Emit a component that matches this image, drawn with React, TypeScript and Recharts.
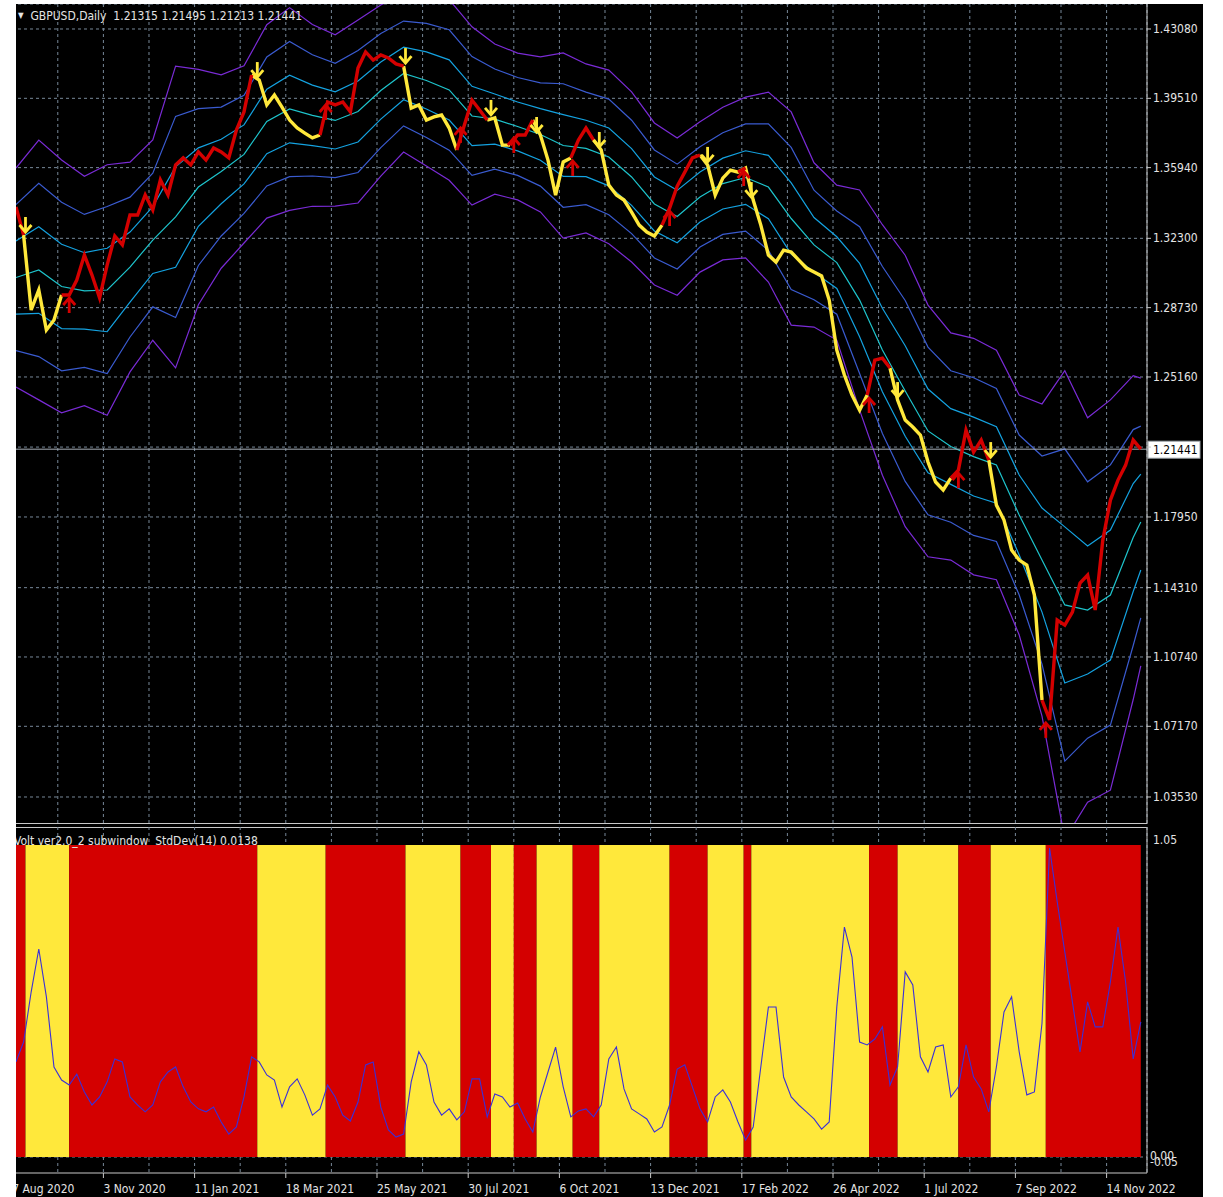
import { ComposedChart, Line, XAxis, YAxis, CartesianGrid, ReferenceLine, ReferenceArea, Scatter } from 'recharts'

const FONT = "'DejaVu Sans Condensed', 'Liberation Sans Narrow', 'DejaVu Sans', sans-serif"
const RED = '#d40000'
const YELLOW = '#ffe83b'
const GRID = '#778899'
const FRAME = '#c8c8c8'
const TEXT = '#e4e4e4'

// one close every 4 daily bars
const BAR_STEP = 4
const CLOSES = [
  1.3391, 1.3247, 1.2861, 1.2964, 1.2758, 1.2809, 1.2938, 1.2938, 1.3015, 1.3144,
  1.3041, 1.2923, 1.3093, 1.3242, 1.3196, 1.3350, 1.3350, 1.3453, 1.3376, 1.3531,
  1.3453, 1.3608, 1.3644, 1.3608, 1.3675, 1.3633, 1.3695, 1.3675, 1.3644, 1.3788,
  1.3881, 1.4071, 1.4045, 1.3917, 1.3968, 1.3906, 1.3839, 1.3798, 1.3772, 1.3747,
  1.3762, 1.3932, 1.3917, 1.3932, 1.3881, 1.4107, 1.4190, 1.4148, 1.4174, 1.4159,
  1.4128, 1.4117, 1.3901, 1.3917, 1.3839, 1.3855, 1.3865, 1.3798, 1.3685, 1.3814,
  1.3942, 1.3891, 1.3839, 1.3850, 1.3710, 1.3710, 1.3762, 1.3762, 1.3839, 1.3762,
  1.3633, 1.3453, 1.3623, 1.3644, 1.3736, 1.3798, 1.3736, 1.3685, 1.3504, 1.3453,
  1.3427, 1.3365, 1.3298, 1.3262, 1.3242, 1.3298, 1.3386, 1.3499, 1.3571, 1.3644,
  1.3659, 1.3608, 1.3453, 1.3540, 1.3581, 1.3571, 1.3592, 1.3427, 1.3298, 1.3144,
  1.3108, 1.3169, 1.3159, 1.3118, 1.3077, 1.3056, 1.3036, 1.2912, 1.2654, 1.2526,
  1.2423, 1.2345, 1.2423, 1.2603, 1.2613, 1.2562, 1.2397, 1.2294, 1.2258, 1.2217,
  1.2078, 1.1975, 1.1934, 1.1995, 1.2036, 1.2242, 1.2129, 1.2191, 1.2088, 1.1856,
  1.1779, 1.1625, 1.1573, 1.1547, 1.1393, 1.0852, 1.0750, 1.1264, 1.1238, 1.1305,
  1.1455, 1.1496, 1.1316, 1.1676, 1.1882, 1.1985, 1.2062, 1.2191, 1.2144,
]

const STD_DEV = [
  0.320, 0.387, 0.556, 0.700, 0.539, 0.303, 0.259, 0.242, 0.279, 0.219,
  0.175, 0.202, 0.253, 0.330, 0.320, 0.202, 0.175, 0.152, 0.175, 0.253,
  0.286, 0.303, 0.236, 0.185, 0.162, 0.152, 0.168, 0.118, 0.077, 0.101,
  0.202, 0.337, 0.320, 0.276, 0.259, 0.168, 0.236, 0.263, 0.209, 0.141,
  0.162, 0.242, 0.202, 0.141, 0.121, 0.185, 0.310, 0.320, 0.168, 0.091,
  0.067, 0.077, 0.253, 0.354, 0.310, 0.185, 0.141, 0.162, 0.125, 0.152,
  0.263, 0.263, 0.135, 0.212, 0.202, 0.168, 0.182, 0.128, 0.084, 0.202,
  0.286, 0.370, 0.236, 0.135, 0.155, 0.162, 0.135, 0.175, 0.330, 0.370,
  0.229, 0.162, 0.145, 0.128, 0.084, 0.101, 0.175, 0.296, 0.310, 0.236,
  0.162, 0.118, 0.202, 0.226, 0.185, 0.118, 0.057, 0.101, 0.303, 0.505,
  0.505, 0.269, 0.202, 0.175, 0.152, 0.128, 0.094, 0.118, 0.505, 0.774,
  0.673, 0.387, 0.377, 0.397, 0.438, 0.242, 0.303, 0.623, 0.579, 0.337,
  0.286, 0.370, 0.377, 0.202, 0.236, 0.377, 0.269, 0.229, 0.152, 0.303,
  0.488, 0.539, 0.354, 0.209, 0.219, 0.450, 1.040, 0.859, 0.690, 0.522,
  0.354, 0.522, 0.438, 0.438, 0.589, 0.774, 0.589, 0.330, 0.455,
]

// envelope: middle line and the distance between neighbouring lines
const BAND_BARS = [
  0, 12, 24, 36, 48, 60, 72, 84, 96, 108, 120, 132, 144, 156, 168, 180, 192,
  204, 216, 228, 240, 252, 264, 276, 288, 300, 312, 324, 336, 348, 360, 372,
  384, 396, 408, 420, 432, 444, 456, 468, 480, 492, 504, 516, 528, 540, 552,
  564, 576, 588, 592,
]
const BAND_MID = [
  1.3028, 1.3067, 1.2982, 1.2959, 1.2964, 1.3082, 1.3221, 1.3340, 1.3494, 1.3574,
  1.3662, 1.3832, 1.3896, 1.3863, 1.3837, 1.3883, 1.3991, 1.4079, 1.4043, 1.3994,
  1.3860, 1.3844, 1.3806, 1.3765, 1.3708, 1.3693, 1.3649, 1.3546, 1.3407, 1.3342,
  1.3443, 1.3512, 1.3543, 1.3494, 1.3332, 1.3196, 1.3105, 1.2912, 1.2655, 1.2444,
  1.2238, 1.2158, 1.2106, 1.2063, 1.1805, 1.1573, 1.1342, 1.1316, 1.1393, 1.1689,
  1.1769,
]
const BAND_STEP = [
  0.0188, 0.0223, 0.0217, 0.0197, 0.0215, 0.0180, 0.0172, 0.0259, 0.0202, 0.0166,
  0.0152, 0.0166, 0.0174, 0.0156, 0.0147, 0.0157, 0.0147, 0.0135, 0.0147, 0.0155,
  0.0153, 0.0129, 0.0126, 0.0133, 0.0159, 0.0145, 0.0149, 0.0146, 0.0139, 0.0135,
  0.0129, 0.0131, 0.0138, 0.0163, 0.0183, 0.0141, 0.0133, 0.0189, 0.0215, 0.0233,
  0.0216, 0.0195, 0.0203, 0.0197, 0.0206, 0.0268, 0.0402, 0.0330, 0.0335, 0.0278,
  0.0247,
]

// bar where each trend run starts (red first, then alternating)
const TREND_BREAKS = [0, 5, 28, 127, 163, 205, 234, 250, 262, 274, 293, 307, 344, 364, 383, 387, 449, 464, 496, 513, 542, 592]

const PRICE_TICKS = [1.4308, 1.3951, 1.3594, 1.323, 1.2873, 1.2516, 1.2155, 1.1795, 1.1431, 1.1074, 1.0717, 1.0353]
const LAST_PRICE = 1.21441
const GRID_BARS = [-2, 22, 46, 70, 94, 118, 142, 166, 190, 214, 238, 262, 286, 310, 334, 358, 382, 406, 430, 454, 478, 502, 526, 550, 574]
const DATE_LABELS = ['7 Aug 2020', '3 Nov 2020', '11 Jan 2021', '18 Mar 2021', '25 May 2021', '30 Jul 2021', '6 Oct 2021', '13 Dec 2021', '17 Feb 2022', '26 Apr 2022', '1 Jul 2022', '7 Sep 2022', '14 Nov 2022']

const X_DOMAIN = [-2.1, 595.26]

const runIndex = (b: number) => {
  for (let i = TREND_BREAKS.length - 2; i >= 0; i--) if (b >= TREND_BREAKS[i]) return i
  return 0
}
const isRed = (b: number) => runIndex(b) % 2 === 0

const priceData = CLOSES.map((c, i) => {
  const b = i * BAR_STEP
  const nb = (i + 1) * BAR_STEP
  const hasNext = i + 1 < CLOSES.length
  const red = isRed(b) || (hasNext && isRed(nb))
  const yellow = !isRed(b) || (hasNext && !isRed(nb))
  return { b, red: red ? c : null, yellow: yellow ? c : null }
})

const bandData = BAND_BARS.map((b, i) => {
  const m = BAND_MID[i]
  const s = BAND_STEP[i]
  return { b, u3: m + 3 * s, u2: m + 2 * s, u1: m + s, mid: m, l1: m - s, l2: m - 2 * s, l3: m - 3 * s }
})

const arrowData = TREND_BREAKS.slice(1, -1).map((b, j) => ({
  b,
  p: CLOSES[Math.min(CLOSES.length - 1, Math.round(b / BAR_STEP))],
  up: (j + 1) % 2 === 0,
}))

const stdData = STD_DEV.map((v, i) => ({ b: i * BAR_STEP, v }))

const runs = TREND_BREAKS.slice(0, -1).map((b, i) => ({ x1: b, x2: TREND_BREAKS[i + 1], red: i % 2 === 0 }))

const BANDS = [
  { key: 'u3', color: '#7a2bd6' },
  { key: 'u2', color: '#3a5bd0' },
  { key: 'u1', color: '#14a2e0' },
  { key: 'mid', color: '#1ec4cc' },
  { key: 'l1', color: '#14a2e0' },
  { key: 'l2', color: '#3a5bd0' },
  { key: 'l3', color: '#7a2bd6' },
]

const Arrow = (props: any) => {
  const { cx, cy, payload } = props
  if (cx == null || cy == null) return null
  if (payload.up) {
    return (
      <g stroke={RED} strokeWidth={2.8} fill="none">
        <line x1={cx} x2={cx} y1={cy + 3} y2={cy + 18} />
        <polyline points={`${cx - 6},${cy + 10} ${cx},${cy + 3} ${cx + 6},${cy + 10}`} />
      </g>
    )
  }
  return (
    <g stroke={YELLOW} strokeWidth={2.8} fill="none">
      <line x1={cx} x2={cx} y1={cy - 18} y2={cy - 3} />
      <polyline points={`${cx - 6},${cy - 10} ${cx},${cy - 3} ${cx + 6},${cy - 10}`} />
    </g>
  )
}

const PriceTick = (props: any) => {
  const { x, y, payload } = props
  if (payload.value === 1.2155) return null
  return (
    <text x={x} y={y + 4} fill={TEXT} fontSize={12} fontFamily={FONT} textAnchor="start">
      {payload.value.toFixed(5)}
    </text>
  )
}

const DateTick = (props: any) => {
  const { x, y, payload } = props
  const idx = GRID_BARS.indexOf(payload.value)
  if (idx % 2 !== 0) return null
  return (
    <g>
      <line x1={x} x2={x} y1={y - 7} y2={y - 2} stroke={FRAME} />
      <text x={x} y={y + 13} fill={TEXT} fontSize={12} fontFamily={FONT} textAnchor="start">
        {DATE_LABELS[idx / 2]}
      </text>
    </g>
  )
}

const StdTick = (props: any) => {
  const { x, y, payload } = props
  if (payload.value === 0) {
    return (
      <g fill={TEXT} fontSize={12} fontFamily={FONT}>
        <text x={x - 3} y={y + 3}>0.00</text>
        <text x={x - 3} y={y + 9}>-0.05</text>
      </g>
    )
  }
  return (
    <text x={x} y={y - 1} fill={TEXT} fontSize={12} fontFamily={FONT}>
      {payload.value.toFixed(2)}
    </text>
  )
}

const lastPriceLabel = (props: any) => {
  const { x, y, width } = props.viewBox
  return (
    <g>
      <rect x={x + width + 1} y={y - 8} width={52} height={17} fill="#ffffff" stroke="#9aa0a6" />
      <text x={x + width + 6} y={y + 5} fill="#000" fontSize={12} fontFamily={FONT}>
        {LAST_PRICE.toFixed(5)}
      </text>
    </g>
  )
}

export default function App() {
  return (
    <div style={{ position: 'fixed', left: 0, top: 0, width: 1223, height: 1197, background: '#fff' }}>
      <div style={{ position: 'absolute', left: 16, top: 4, width: 1187, height: 1193, background: '#000', overflow: 'hidden' }}>
        <div style={{ position: 'absolute', left: -4, top: 0 }}>
          <ComposedChart width={1192} height={820} data={priceData} margin={{ top: 0, right: 0, bottom: 0, left: 0 }}>
            <CartesianGrid stroke={GRID} strokeDasharray="3 3" />
            <XAxis dataKey="b" type="number" domain={X_DOMAIN} allowDataOverflow ticks={GRID_BARS} hide />
            <YAxis
              orientation="right"
              width={57}
              type="number"
              domain={[1.02139, 1.44367]}
              allowDataOverflow
              ticks={PRICE_TICKS}
              interval={0}
              tick={<PriceTick />}
              tickSize={4}
              tickLine={{ stroke: FRAME }}
              axisLine={{ stroke: FRAME }}
            />
            {BANDS.map((s) => (
              <Line key={s.key} data={bandData} dataKey={s.key} stroke={s.color} strokeWidth={1.2} dot={false} isAnimationActive={false} />
            ))}
            <ReferenceLine y={LAST_PRICE} stroke="#a8b0b8" label={lastPriceLabel} />
            <Line dataKey="yellow" stroke={YELLOW} strokeWidth={3.4} dot={false} isAnimationActive={false} />
            <Line dataKey="red" stroke={RED} strokeWidth={3.4} dot={false} isAnimationActive={false} />
            <Scatter data={arrowData} dataKey="p" shape={Arrow} isAnimationActive={false} />
          </ComposedChart>
        </div>

        <div style={{ position: 'absolute', left: 0, top: 819, width: 1131, height: 1, background: FRAME }} />
        <div style={{ position: 'absolute', left: 0, top: 823, width: 1131, height: 1, background: FRAME }} />

        <div style={{ position: 'absolute', left: -4, top: 823 }}>
          <ComposedChart width={1192} height={370} data={stdData} margin={{ top: 0, right: 0, bottom: 0, left: 0 }}>
            <CartesianGrid stroke={GRID} strokeDasharray="3 3" horizontalValues={[0]} />
            <XAxis
              dataKey="b"
              type="number"
              domain={X_DOMAIN}
              allowDataOverflow
              ticks={GRID_BARS}
              interval={0}
              height={24}
              tickSize={5}
              tickMargin={2}
              tickLine={false}
              axisLine={{ stroke: FRAME }}
              tick={<DateTick />}
            />
            <YAxis
              orientation="right"
              width={57}
              type="number"
              domain={[-0.0539, 1.1106]}
              allowDataOverflow
              ticks={[1.05, 0]}
              interval={0}
              tick={<StdTick />}
              tickSize={4}
              tickLine={false}
              axisLine={{ stroke: FRAME }}
            />
            {runs.map((r, i) => (
              <ReferenceArea key={i} x1={r.x1} x2={r.x2} y1={0} y2={1.05} fill={r.red ? RED : YELLOW} fillOpacity={1} stroke="none" />
            ))}
            <Line dataKey="v" stroke="#3a2fd8" strokeWidth={1.1} dot={false} isAnimationActive={false} />
          </ComposedChart>
        </div>

        <div style={{ position: 'absolute', left: 2, top: 5, color: TEXT, fontFamily: FONT, fontSize: 12, whiteSpace: 'pre', lineHeight: '14px' }}>
          <span style={{ fontSize: 8, verticalAlign: 2 }}>▼</span>
          {'  GBPUSD,Daily  1.21315 1.21495 1.21213 1.21441'}
        </div>
        <div style={{ position: 'absolute', left: -2, top: 830, color: TEXT, fontFamily: FONT, fontSize: 12, whiteSpace: 'pre', lineHeight: '14px' }}>
          {'Volt ver2.0_2 subwindow  StdDev(14) 0.0138'}
        </div>
      </div>
    </div>
  )
}
